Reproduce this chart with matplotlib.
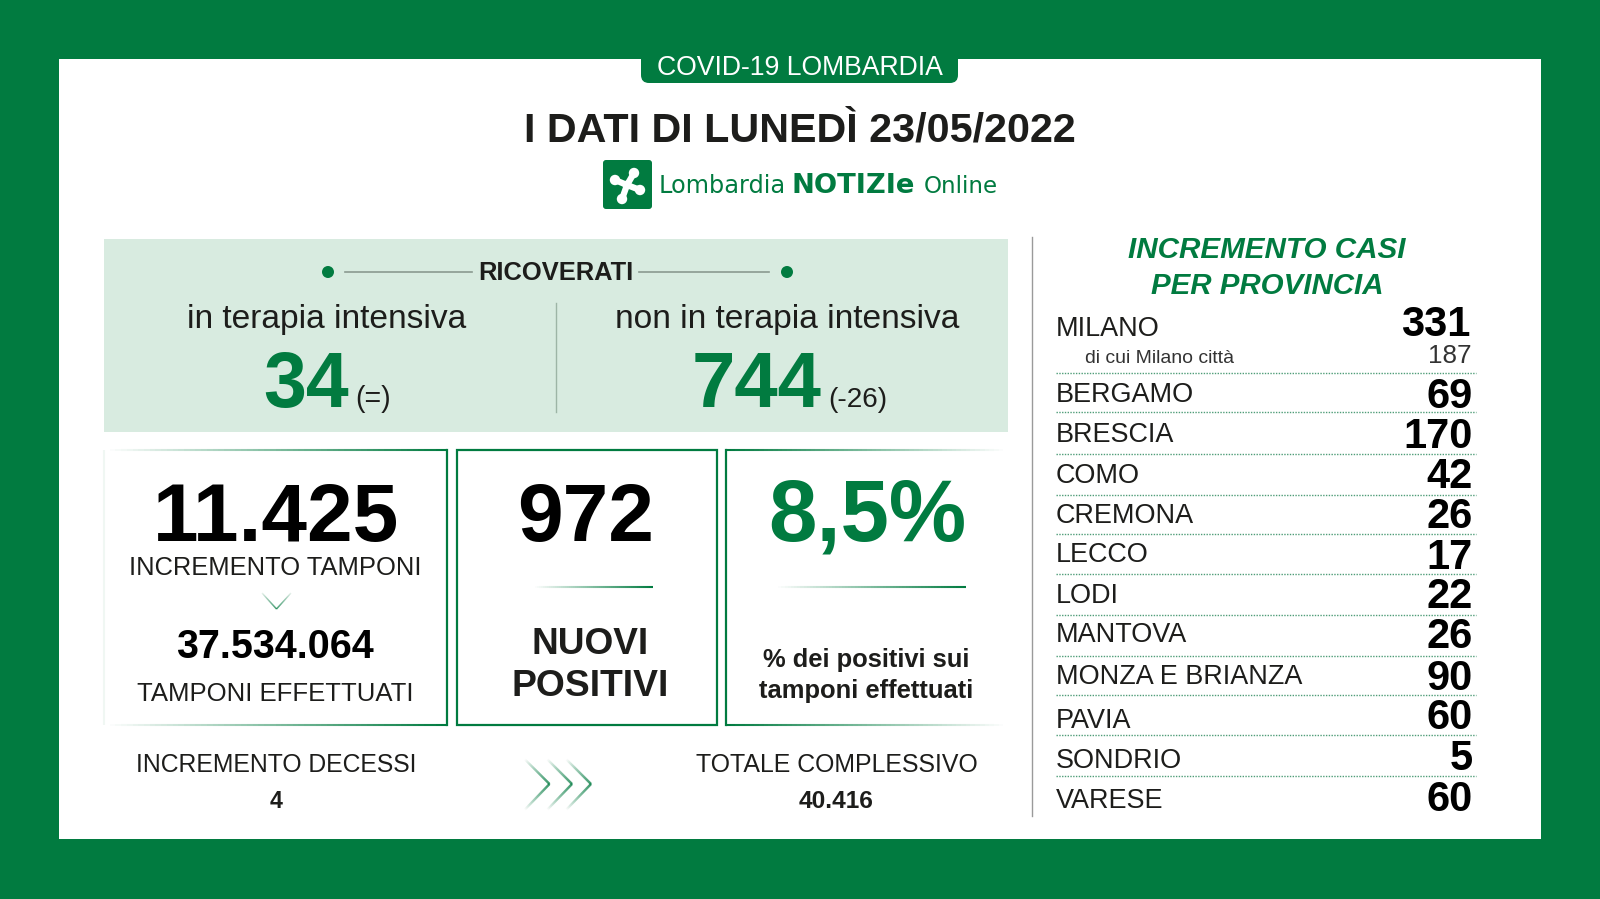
#!/usr/bin/env python3
"""COVID-19 Lombardia daily bulletin card, 23/05/2022."""

import matplotlib
matplotlib.use("Agg")
import matplotlib.pyplot as plt
import numpy as np
from matplotlib.collections import LineCollection
from matplotlib.colors import to_rgb
from matplotlib.patches import Circle, FancyBboxPatch, Rectangle

GREEN = "#017b40"
PALE = "#d8ebe0"
DARK = "#1d1d1b"

# data
TITLE = "I DATI DI LUNEDÌ 23/05/2022"
ICU_VALUE, ICU_DELTA = "34", "(=)"
WARD_VALUE, WARD_DELTA = "744", "(-26)"
TESTS_NEW = "11.425"
TESTS_TOTAL = "37.534.064"
NEW_CASES = "972"
POSITIVE_RATE = "8,5%"
DEATHS_NEW = "4"
DEATHS_TOTAL = "40.416"
PROVINCES = ["MILANO", "BERGAMO", "BRESCIA", "COMO", "CREMONA", "LECCO", "LODI",
             "MANTOVA", "MONZA E BRIANZA", "PAVIA", "SONDRIO", "VARESE"]
PROVINCE_CASES = [331, 69, 170, 42, 26, 17, 22, 26, 90, 60, 5, 60]
MILANO_CITY = 187

# layout, in image pixels
NAME_Y = [336, 402.5, 441.5, 483, 523, 562, 603, 642, 684, 728, 768, 808.5]
VALUE_Y = [336.5, 408.5, 448, 488.5, 528.5, 569, 608.5, 648.5, 690, 729, 770.5, 811]
VALUE_X = [1470, 1473, 1473, 1473, 1473, 1473, 1473, 1473, 1473, 1473, 1473, 1473]
RULE_Y = [373, 412, 454, 495, 534, 574, 615, 656, 695, 735, 776]
CHEVRON_X = [549.5, 572, 591]

plt.rcParams["font.family"] = ["Liberation Sans", "DejaVu Sans"]

fig = plt.figure(figsize=(16, 8.99), dpi=100, facecolor=GREEN)
ax = fig.add_axes([0, 0, 1, 1])
ax.set_xlim(0, 1600)
ax.set_ylim(899, 0)
ax.axis("off")


def txt(x, y, s, px, color=DARK, ha="center", weight="normal", **kw):
    # px is the em size in image pixels
    return ax.text(x, y, s, fontsize=px * 0.72, color=color, ha=ha, va="baseline",
                   fontweight=weight, **kw)


def fade_line(x0, y0, x1, y1, a0, a1, lw=1.5, color=GREEN, n=60):
    # straight line whose alpha runs from a0 to a1
    xs = np.linspace(x0, x1, n + 1)
    ys = np.linspace(y0, y1, n + 1)
    segs = [[(xs[i], ys[i]), (xs[i + 1], ys[i + 1])] for i in range(n)]
    rgb = to_rgb(color)
    cols = [(*rgb, a) for a in np.linspace(a0, a1, n)]
    ax.add_collection(LineCollection(segs, colors=cols, linewidths=lw, capstyle="butt"))


# panel and tab
ax.add_patch(Rectangle((58.5, 59), 1482, 780, fc="white", ec="none"))
ax.add_patch(FancyBboxPatch((641, 40), 317, 43, boxstyle="round,pad=0,rounding_size=8",
                            fc=GREEN, ec="none"))
txt(799.5, 75, "COVID-19 LOMBARDIA", 26.6, color="white")
txt(800, 142, TITLE, 41.2, weight="bold")

# logo
ax.add_patch(FancyBboxPatch((603, 160), 49, 49, boxstyle="round,pad=0,rounding_size=3",
                            fc=GREEN, ec="none"))
for bx, by in [(634, 173), (615, 180), (640, 190), (622, 199)]:
    ax.plot([627, bx], [185, by], color="white", lw=4.5, solid_capstyle="round")
    ax.add_patch(Circle((bx, by), 5.2, fc="white", ec="none"))
ax.add_patch(Circle((627, 185), 4.5, fc="white", ec="none"))
txt(659, 193, "Lombardia", 24, color=GREEN, ha="left", family="DejaVu Sans")
txt(791, 193, "NOTIZIe", 27.4, color=GREEN, ha="left", weight="bold", family="DejaVu Sans")
txt(924, 193, "Online", 23, color=GREEN, ha="left", family="DejaVu Sans")

# ricoverati block
ax.add_patch(Rectangle((104, 239), 904, 193, fc=PALE, ec="none"))
txt(556, 280, "RICOVERATI", 25.5, weight="bold")
ax.plot([345, 472], [272, 272], color="#8a9a90", lw=1.2)
ax.plot([639, 769], [272, 272], color="#8a9a90", lw=1.2)
ax.add_patch(Circle((328, 272), 6, fc=GREEN, ec="none"))
ax.add_patch(Circle((787, 272), 6, fc=GREEN, ec="none"))
ax.plot([556, 556], [303, 412], color="#9db5a6", lw=1)
txt(326.5, 328, "in terapia intensiva", 33.5)
txt(787, 328, "non in terapia intensiva", 33.5)
txt(306, 407, ICU_VALUE, 77, color=GREEN, weight="bold")
txt(355, 407, ICU_DELTA, 28.5, ha="left")
txt(757, 407, WARD_VALUE, 78, color=GREEN, weight="bold")
txt(828.5, 407, WARD_DELTA, 28, ha="left")

# three boxes
TOP, BOT = 449.5, 725
fade_line(104, TOP, 447, TOP, 0.0, 1.0)
fade_line(104, BOT, 447, BOT, 0.0, 1.0)
fade_line(104, TOP, 104, BOT, 0.06, 0.06)
ax.plot([447, 447], [TOP, BOT], color=GREEN, lw=1.6)
ax.add_patch(Rectangle((457, TOP), 260, BOT - TOP, fc="none", ec=GREEN, lw=1.6))
ax.plot([726, 726], [TOP, BOT], color=GREEN, lw=1.6)
fade_line(726, TOP, 1008, TOP, 1.0, 0.0)
fade_line(726, BOT, 1008, BOT, 1.0, 0.0)

txt(276, 541, TESTS_NEW, 82, color="#000000", weight="bold")
txt(275.5, 575, "INCREMENTO TAMPONI", 25.5)
fade_line(262, 593, 276.5, 609, 0.1, 1.0, lw=1)
fade_line(291, 593, 276.5, 609, 0.1, 1.0, lw=1)
txt(275, 658, TESTS_TOTAL, 39.5, color="#000000", weight="bold")
txt(275.5, 701, "TAMPONI EFFETTUATI", 25.7)

txt(586, 541, NEW_CASES, 82, color="#000000", weight="bold")
fade_line(533, 587, 653, 587, 0.0, 1.0)
txt(590, 654, "NUOVI", 37, weight="bold")
txt(590, 696, "POSITIVI", 37.3, weight="bold")

txt(867, 541, POSITIVE_RATE, 87, color=GREEN, weight="bold")
fade_line(775, 587, 966, 587, 0.0, 1.0)
txt(866, 667, "% dei positivi sui", 25.5, weight="bold")
txt(866, 698, "tamponi effettuati", 25.5, weight="bold")

# bottom row
txt(276, 772, "INCREMENTO DECESSI", 24.8)
txt(276, 808, DEATHS_NEW, 23, weight="bold")
txt(836.5, 772, "TOTALE COMPLESSIVO", 24.9)
txt(836, 808, DEATHS_TOTAL, 24.5, weight="bold")
for cx in CHEVRON_X:
    fade_line(cx - 25, 759, cx, 784, 0.0, 1.0, lw=1.7)
    fade_line(cx, 784, cx - 25, 810, 1.0, 0.0, lw=1.7)

# province table
ax.plot([1031.5, 1031.5], [237, 816], color="#9a9a9a", lw=1)
txt(1267, 258, "INCREMENTO CASI", 29.6, color=GREEN, weight="bold", style="italic")
txt(1267, 294, "PER PROVINCIA", 29.5, color=GREEN, weight="bold", style="italic")
for name, cases, ny, vy, vx in zip(PROVINCES, PROVINCE_CASES, NAME_Y, VALUE_Y, VALUE_X):
    txt(1056, ny, name, 27, ha="left")
    txt(vx, vy, str(cases), 41.5, color="#000000", ha="right", weight="bold")
txt(1085, 363, "di cui Milano città", 19.4, ha="left", color="#333333")
txt(1471, 363, str(MILANO_CITY), 26, ha="right", color="#333333")
for y in RULE_Y:
    ax.plot([1056, 1476], [y, y], color="#4f9d78", lw=1, ls=(0, (1, 1)))

fig.savefig("out.png", dpi=100, facecolor=GREEN)
